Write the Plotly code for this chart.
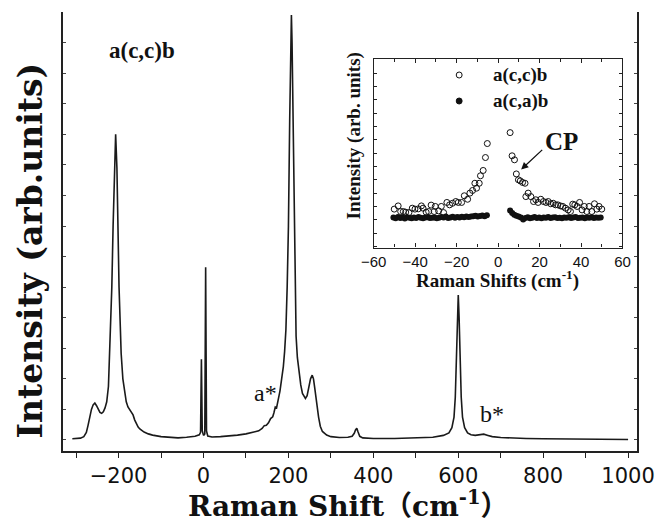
import plotly.graph_objects as go

# ---- main spectrum, a(c,c)b ----
spec_x = [-309, -300, -290, -282, -276, -272, -268, -264, -260, -256, -252, -248, -244, -240, -236, -232, -228, -224,
          -221, -218, -216, -213, -210, -207, -204, -202, -199, -196, -194, -190, -186, -182, -178, -174, -170, -166,
          -162, -158, -154, -150, -140, -130, -120, -100, -80, -60, -40, -20, -10, -7, -5, -3, 0, 3, 5, 7, 10, 20, 40,
          60, 80, 100, 120, 130, 138, 143, 148, 153, 158, 163, 166, 169, 172, 176, 180, 184, 188, 191, 194, 197, 200,
          203, 205.5, 207, 208.5, 211, 214, 216, 218, 221, 225, 229, 233, 237, 240, 244, 248, 252, 256, 259, 262, 265,
          268, 271, 275, 280, 290, 300, 320, 340, 350, 355, 358, 361, 364, 368, 375, 400, 450, 500, 540, 565, 578, 585,
          590, 593, 596, 598, 600, 602, 604, 607, 610, 615, 622, 630, 640, 650, 660, 670, 680, 700, 730, 760, 800, 850,
          900, 950, 1000]
spec_y = [40, 45, 60, 110, 250, 480, 750, 1000, 1150, 1210, 1120, 980, 900, 870, 920, 1050, 1250, 1750,
          2830, 3900, 5000, 7000, 8900, 10000, 8900, 7000, 5000, 3700, 2830, 2000, 1550, 1250, 1080, 980, 930, 820,
          650, 520, 420, 360, 260, 200, 160, 110, 80, 70, 90, 120, 170, 250, 2640, 300, 150, 200, 5650, 300, 130, 100, 110,
          130, 160, 200, 260, 300, 380, 470, 480, 560, 700, 760, 900, 1080, 1050, 1280, 1600, 2000, 2400, 2900, 3600, 5000, 7000,
          10500, 13000, 13900, 13000, 10500, 7000, 4800, 3400, 2700, 2180, 1800, 1520, 1400, 1360, 1450, 1700, 2000, 2120, 2000, 1700, 1350,
          1050, 750, 450, 280, 160, 110, 80, 90, 120, 220, 330, 380, 260, 120, 70, 50, 50, 60, 90, 150, 230, 400,
          750, 1400, 2800, 4000, 4740, 4000, 2800, 1400, 750, 400, 230, 170, 150, 170, 190, 150, 110, 80, 60, 50, 40, 30,
          25, 20, 15]

# ---- inset: a(c,c)b (open) ----
cc_x = [-50.1, -48.2, -47.0, -45.7, -44.6, -43.0, -41.4, -40.1, -38.5, -37.0, -36.2, -34.7, -33.5, -32.3, -30.8, -30.3,
        -28.7, -27.4, -26.3, -24.7, -23.4, -22.0, -20.4, -19.2, -17.6, -16.3, -14.7, -13.6, -12.3, -11.2, -10.4, -9.1,
        -8.5, -7.2, -6.1, -5.2,
        5.8, 6.75, 7.9, 8.8, 9.8, 10.7, 11.8, 13.0, 13.4, 14.5, 15.8, 17.1, 18.2, 19.3, 20.6, 21.9, 23.1, 24.2, 25.4,
        26.6, 27.7, 28.8, 30.1, 31.2, 32.5, 33.8, 34.9, 36.0, 37.0, 38.1, 39.3, 40.5, 41.6, 42.8, 43.9, 45.2, 46.5,
        47.6, 48.7, 50.0]
cc_y = [2.88, 3.12, 2.70, 2.70, 2.65, 2.62, 2.95, 2.88, 2.90, 3.12, 2.95, 2.65, 2.70, 3.18, 2.70, 3.08, 2.75, 3.08,
        2.62, 3.38, 3.20, 3.32, 3.45, 3.38, 3.38, 3.88, 3.62, 4.08, 4.28, 4.82, 4.45, 4.82, 5.38, 5.78, 6.75, 7.80,
        8.62, 6.88, 6.58, 5.52, 5.08, 5.00, 4.88, 4.82, 3.82, 4.08, 3.82, 3.45, 3.58, 3.38, 3.62, 3.45, 3.38, 3.45,
        3.28, 3.32, 3.20, 3.20, 3.12, 3.08, 2.95, 2.82, 2.70, 3.25, 3.20, 3.08, 3.38, 2.82, 3.08, 2.70, 3.08, 2.70,
        3.28, 2.88, 3.08, 2.88]

# ---- inset: a(c,a)b (filled) ----
ca_x = [-50.5, -49.4, -48.3, -47.2, -46.1, -45.0, -43.9, -42.8, -41.7, -40.6, -39.5, -38.4, -37.3, -36.2, -35.1,
        -34.0, -32.9, -31.8, -30.7, -29.6, -28.5, -27.4, -26.3, -25.2, -24.1, -23.0, -21.9, -20.8, -19.7, -18.6,
        -17.5, -16.4, -15.3, -14.2, -13.1, -12.0, -10.9, -9.8, -8.7, -7.6, -6.5, -5.4,
        5.8, 6.8, 7.8, 8.8, 9.9, 11.0, 12.1, 13.2, 14.3, 15.4, 16.5, 17.6, 18.7, 19.8, 20.9, 22.0, 23.1, 24.2, 25.3,
        26.4, 27.5, 28.6, 29.7, 30.8, 31.9, 33.0, 34.1, 35.2, 36.3, 37.4, 38.5, 39.6, 40.7, 41.8, 42.9, 44.0, 45.1,
        46.2, 47.3, 48.4, 49.5]
ca_y = [2.25, 2.20, 2.28, 2.22, 2.25, 2.18, 2.27, 2.24, 2.20, 2.26, 2.22, 2.28, 2.23, 2.19, 2.25, 2.27, 2.21, 2.24,
        2.26, 2.20, 2.23, 2.28, 2.25, 2.32, 2.22, 2.26, 2.30, 2.24, 2.28, 2.25, 2.30, 2.27, 2.33, 2.29, 2.32, 2.35,
        2.38, 2.33, 2.36, 2.40, 2.35, 2.42,
        2.78, 2.58, 2.45, 2.38, 2.33, 2.25, 2.10, 2.22, 2.27, 2.20, 2.24, 2.28, 2.22, 2.25, 2.20, 2.26, 2.23, 2.28,
        2.21, 2.25, 2.27, 2.22, 2.24, 2.20, 2.26, 2.23, 2.27, 2.21, 2.25, 2.28, 2.22, 2.24, 2.26, 2.20, 2.25, 2.23,
        2.27, 2.22, 2.26, 2.24, 2.25]

main_ticks = list(range(-300, 1001, 100))
main_labels = [str(v).replace("-", "\u2212") if v % 200 == 0 else "" for v in main_ticks]
inset_ticks = list(range(-60, 61, 20))
inset_labels = [str(v).replace("-", "\u2212") for v in inset_ticks]

W, H = 667, 523
L, R, T, B = 63, 23, 12, 72
pw, ph = W - L - R, H - T - B


def px(x):
    return (x - L) / pw


def py(y):
    return (H - B - y) / ph


fig = go.Figure()
fig.add_trace(go.Scatter(x=spec_x, y=spec_y, mode="lines", line=dict(color="#1a1a1a", width=1.6),
                         xaxis="x", yaxis="y", showlegend=False))
fig.add_trace(go.Scatter(x=cc_x, y=cc_y, mode="markers",
                         marker=dict(symbol="circle-open", size=6, color="#111", line=dict(width=1)),
                         xaxis="x2", yaxis="y2", showlegend=False))
fig.add_trace(go.Scatter(x=ca_x, y=ca_y, mode="markers",
                         marker=dict(symbol="circle", size=6, color="#111"),
                         xaxis="x2", yaxis="y2", showlegend=False))

ix0, ix1 = px(377.5), px(629.3)
iy0, iy1 = py(247.5), py(59.3)

fig.update_layout(
    width=W, height=H, margin=dict(l=L, r=R, t=T, b=B),
    paper_bgcolor="white", plot_bgcolor="white",
    xaxis=dict(domain=[0, 1], range=[-331, 1021], tickvals=main_ticks, ticktext=main_labels,
               ticks="outside", ticklen=5, tickwidth=1.2, tickcolor="#222",
               showline=True, linecolor="#222", linewidth=2, showgrid=False, zeroline=False,
               tickfont=dict(family="DejaVu Sans", size=21, color="#111")),
    xaxis3=dict(overlaying="x", side="top", range=[-331, 1021], tickvals=main_ticks,
                showticklabels=False, ticks="inside", ticklen=4, tickcolor="#888", tickwidth=1,
                showline=True, linecolor="#222", linewidth=2, showgrid=False, zeroline=False),
    yaxis=dict(domain=[0, 1], range=[-360, 14000], dtick=1000, tick0=0, showticklabels=False,
               ticks="inside", ticklen=3, tickcolor="#444", tickwidth=1, mirror="ticks",
               showline=True, linecolor="#222", linewidth=2, showgrid=False, zeroline=False),
    xaxis2=dict(domain=[ix0, ix1], anchor="y2", range=[-60, 60], tickvals=inset_ticks, ticktext=inset_labels,
                ticks="inside", ticklen=4, tickcolor="#222", mirror="ticks",
                minor=dict(dtick=10, tick0=0, ticks="inside", ticklen=3, tickcolor="#222"),
                showline=True, linecolor="#222", linewidth=1.3, showgrid=False, zeroline=False,
                tickfont=dict(family="Liberation Sans", size=15, color="#111")),
    yaxis2=dict(domain=[iy0, iy1], anchor="x2", range=[0, 14.12], tick0=1.075, dtick=1, showticklabels=False,
                ticks="inside", ticklen=3, tickcolor="#222", mirror="ticks",
                showline=True, linecolor="#222", linewidth=1.3, showgrid=False, zeroline=False),
)

serif = "Liberation Serif"
big = "DejaVu Serif"
ann = [
    dict(text="<b>Raman Shift\uff08cm<sup>-1</sup>\uff09</b>", x=px(352), y=py(504),
         font=dict(family=big + ", Noto Sans CJK JP", size=28, color="#111")),
    dict(text="<b>Intensity (arb.units)</b>", x=px(30), y=py(250), textangle=-90,
         font=dict(family=big, size=33, color="#111")),
    dict(text="<b>a(c,c)b</b>", x=px(143), y=py(50), font=dict(family=serif, size=23, color="#111")),
    dict(text="a*", x=px(268), y=py(393), font=dict(family=serif, size=24, color="#111")),
    dict(text="b*", x=px(497), y=py(414), font=dict(family=serif, size=24, color="#111")),
    dict(text="<b>Raman Shifts (cm<sup>-1</sup>)</b>", x=px(503), y=py(279), font=dict(family=serif, size=19, color="#111")),
    dict(text="<b>Intensity (arb. units)</b>", x=px(358), y=py(136), textangle=-90,
         font=dict(family=serif, size=19, color="#111")),
    dict(text="<b>a(c,c)b</b>", x=px(496), y=py(75), xanchor="left", font=dict(family=serif, size=19, color="#111")),
    dict(text="<b>a(c,a)b</b>", x=px(496), y=py(101), xanchor="left", font=dict(family=serif, size=19, color="#111")),
    dict(text="<b>CP</b>", x=px(568), y=py(141), font=dict(family=serif, size=25, color="#111")),
]
for a in ann:
    a.setdefault("xanchor", "center")
    a.update(xref="paper", yref="paper", yanchor="middle", showarrow=False)
fig.update_layout(annotations=ann)
fig.add_annotation(xref="paper", yref="paper", x=px(526.7), y=py(169.5), ax=22.6, ay=-21, text="",
                   showarrow=True, arrowhead=2, arrowsize=1.1, arrowwidth=1.3, arrowcolor="#111")

# legend glyphs for inset
fig.add_shape(type="circle", xref="paper", yref="paper", x0=px(461), x1=px(467), y0=py(78), y1=py(72),
              line=dict(color="#111", width=1), fillcolor="white")
fig.add_shape(type="circle", xref="paper", yref="paper", x0=px(461), x1=px(467), y0=py(104), y1=py(98),
              line=dict(color="#111", width=1), fillcolor="#111")

fig.write_html("out.html")
